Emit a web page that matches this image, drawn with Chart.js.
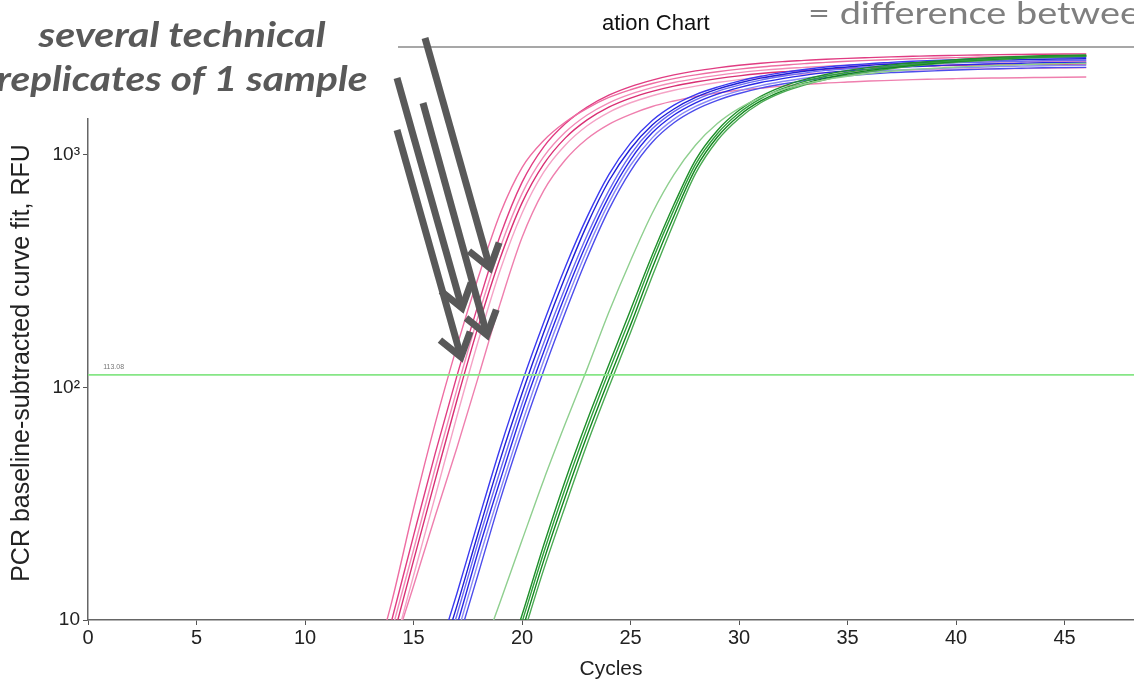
<!DOCTYPE html>
<html lang="en">
<head>
<meta charset="UTF-8">
<title>Amplification Chart</title>
<script src="https://cdn.jsdelivr.net/npm/chart.js"></script>
<style>
    html, body { margin: 0; padding: 0; background: #fff; }
    #wrap { width: 1134px; height: 693px; position: relative; }
</style>
</head>
<body>
<div id="wrap"><canvas id="ampChart"></canvas></div>
<script>
    // cycle numbers shared by every replicate curve
    var cycles = [12,13,14,15,16,17,18,19,20,21,22,23,24,25,26,27,28,29,30,31,32,33,34,35,36,37,38,39,40,41,42,43,44,45,46];

    // pink sample, technical replicates (RFU)
    var pink1 = [2.5,5.5,12,30,70,150,300,560,880,1150,1380,1580,1760,1900,2020,2120,2200,2270,2330,2380,2420,2460,2490,2520,2540,2560,2580,2595,2610,2620,2630,2640,2645,2650,2655];
    var pink2 = [2,4.5,10,23,52,112,230,450,760,1080,1360,1600,1800,1960,2090,2200,2290,2360,2420,2470,2510,2540,2570,2590,2610,2630,2645,2660,2670,2680,2690,2695,2700,2705,2710];
    var pink3 = [1.8,4,9,20,45,98,205,400,680,980,1250,1480,1670,1820,1940,2040,2120,2190,2250,2300,2340,2370,2400,2420,2440,2455,2470,2480,2490,2495,2500,2505,2510,2515,2520];
    var pink4 = [1.6,3.5,8,18,40,88,185,360,620,910,1180,1410,1600,1750,1870,1970,2050,2120,2180,2230,2270,2300,2330,2350,2370,2385,2400,2410,2420,2425,2430,2435,2440,2445,2450];
    var pink5 = [1.4,3,7,15.5,34,75,160,320,560,840,1100,1330,1520,1670,1790,1890,1970,2040,2100,2150,2190,2220,2250,2270,2290,2300,2310,2320,2330,2335,2340,2345,2350,2355,2360];
    var pink6 = [1.3,3,7,14,28,55,112,230,440,700,950,1170,1350,1490,1610,1700,1780,1840,1890,1930,1970,2000,2030,2050,2070,2085,2100,2110,2120,2130,2135,2140,2145,2150,2155];

    // blue sample
    var blue1 = [null,null,1.5,3.2,6.5,13,27,55,105,190,330,540,820,1120,1400,1630,1810,1950,2070,2170,2250,2320,2380,2420,2460,2490,2520,2540,2560,2575,2590,2600,2610,2615,2620];
    var blue2 = [null,null,1.3,2.8,5.8,11.5,24,49,94,172,300,500,770,1060,1340,1570,1760,1910,2030,2130,2210,2280,2340,2380,2420,2450,2480,2500,2520,2535,2550,2560,2570,2575,2580];
    var blue3 = [null,null,1.2,2.5,5.2,10.5,22,44,85,155,270,450,700,1000,1290,1530,1720,1870,1990,2090,2170,2240,2300,2340,2380,2410,2440,2460,2480,2495,2510,2520,2530,2535,2540];
    var blue4 = [null,null,1.1,2.3,4.8,9.5,20,40,78,142,250,420,660,950,1240,1480,1670,1820,1940,2040,2120,2190,2250,2290,2330,2360,2390,2410,2430,2445,2460,2470,2480,2485,2490];
    var blue5 = [null,null,1,2.1,4.3,8.6,18,36,70,130,230,390,620,900,1180,1420,1610,1760,1880,1980,2060,2130,2190,2230,2270,2300,2320,2340,2360,2375,2390,2400,2410,2415,2420];
    var blue6 = [null,null,0.9,1.9,3.9,7.8,16,33,64,118,210,360,580,850,1130,1370,1560,1710,1830,1930,2010,2080,2140,2180,2220,2250,2270,2290,2310,2325,2340,2350,2360,2365,2370];

    // green sample
    var green1 = [null,null,null,null,1.5,3,6.5,12,22,40,70,120,210,350,560,820,1100,1360,1580,1760,1900,2010,2100,2170,2230,2280,2320,2350,2380,2400,2420,2435,2450,2460,2470];
    var green2 = [null,null,null,null,null,1.2,2.8,5.5,10.5,21,40,72,125,215,370,610,950,1270,1550,1780,1960,2100,2210,2300,2370,2430,2480,2520,2560,2590,2620,2640,2660,2670,2680];
    var green3 = [null,null,null,null,null,1.1,2.5,5,9.8,19.5,37,67,117,200,350,580,910,1230,1510,1740,1920,2060,2170,2260,2330,2390,2440,2490,2530,2560,2590,2610,2630,2640,2650];
    var green4 = [null,null,null,null,null,1,2.3,4.6,9,18,34,62,108,185,325,545,870,1190,1470,1700,1880,2020,2130,2220,2300,2360,2420,2470,2510,2550,2580,2610,2630,2650,2660];
    var green5 = [null,null,null,null,null,0.9,2.1,4.2,8.3,16.5,31,57,100,172,300,510,830,1150,1430,1670,1850,1990,2100,2190,2270,2340,2400,2450,2490,2530,2560,2590,2610,2630,2645];

    // threshold and axes
    var threshold = [113.08];
    var xRange = [0, 48.2];
    var yRange = [10, 2900];
    var xTicks = [0,5,10,15,20,25,30,35,40,45];
    var yTicks = [10,100,1000];
    var yTickLabels = ['10','10\u00b2','10\u00b3'];

    var fontFamily = '"Liberation Sans", Arial, sans-serif';
    var slideFont = 'Lato, "Open Sans", sans-serif';

    var pinkColors = ['#ee6ea3','#e03c82','#f28cb8','#d92f74','#f5a3c6','#ef7fae'];
    var blueColors = ['#3a3af0','#1f1fd6','#6b6bf2','#2828e6','#8a8af5','#4c4cec'];
    var greenColors = ['#8fcf8f','#1e8f2a','#2e9f3a','#13861f','#4aaa52'];

    function toPoints(values) {
        return values.map(function (v, i) { return { x: cycles[i], y: v }; });
    }

    var datasets = [];
    function addGroup(series, colors) {
        series.forEach(function (s, i) {
            datasets.push({
                data: toPoints(s),
                borderColor: colors[i],
                borderWidth: 1.4,
                pointRadius: 0,
                fill: false,
                cubicInterpolationMode: 'monotone'
            });
        });
    }
    addGroup([green1, green2, green3, green4, green5], greenColors);
    addGroup([blue1, blue2, blue3, blue4, blue5, blue6], blueColors);
    addGroup([pink1, pink2, pink3, pink4, pink5, pink6], pinkColors);

    datasets.unshift({
        data: [{ x: xRange[0], y: threshold[0] }, { x: xRange[1], y: threshold[0] }],
        borderColor: '#86e686',
        borderWidth: 1.6,
        pointRadius: 0,
        fill: false
    });

    function arrow(c, x1, y1, x2, y2) {
        var ang = Math.atan2(y2 - y1, x2 - x1), head = 27, spread = 0.62;
        c.beginPath();
        c.moveTo(x1, y1);
        c.lineTo(x2 - 3 * Math.cos(ang), y2 - 3 * Math.sin(ang));
        c.stroke();
        c.beginPath();
        c.moveTo(x2 - head * Math.cos(ang - spread), y2 - head * Math.sin(ang - spread));
        c.lineTo(x2, y2);
        c.lineTo(x2 - head * Math.cos(ang + spread), y2 - head * Math.sin(ang + spread));
        c.stroke();
    }

    // draw text stretched horizontally so that `ref` takes `width` px
    function fitText(c, text, ref, x, y, width) {
        var sx = width / c.measureText(ref).width;
        c.save();
        c.translate(x, y);
        c.scale(sx, 1);
        c.fillText(text, 0, 0);
        c.restore();
    }

    var overlay = {
        id: 'overlay',
        afterDraw: function (chart) {
            var c = chart.ctx, a = chart.chartArea;
            var xs = chart.scales.x, ys = chart.scales.y;
            c.save();

            // top frame line
            c.strokeStyle = '#8a8a8a';
            c.lineWidth = 1.5;
            c.beginPath();
            c.moveTo(a.left, a.top);
            c.lineTo(a.right, a.top);
            c.stroke();

            // threshold value label
            c.fillStyle = '#777';
            c.font = '7px ' + fontFamily;
            c.textAlign = 'left';
            c.textBaseline = 'bottom';
            c.fillText(threshold[0].toFixed(2), xs.getPixelForValue(0.7), ys.getPixelForValue(threshold[0]) - 4);

            // y axis title
            c.save();
            c.translate(22, 363);
            c.rotate(-Math.PI / 2);
            c.fillStyle = '#222';
            c.font = '25px ' + fontFamily;
            c.textAlign = 'center';
            c.textBaseline = 'middle';
            c.fillText('PCR baseline-subtracted curve fit, RFU', 0, 0);
            c.restore();

            // chart title (partly hidden on the slide)
            c.fillStyle = '#111';
            c.font = '22px ' + fontFamily;
            c.textAlign = 'left';
            c.textBaseline = 'alphabetic';
            c.fillText('ation Chart', 602, 30);

            // slide annotation box
            c.fillStyle = '#fff';
            c.fillRect(0, 0, 398, 118);

            c.fillStyle = '#7f7f7f';
            c.font = '30px ' + slideFont;
            c.textAlign = 'left';
            fitText(c, '= difference between', '= difference betwee', 808, 24, 332);

            c.fillStyle = '#595959';
            c.font = 'italic bold 35px ' + slideFont;
            c.textAlign = 'center';
            fitText(c, 'several technical', 'several technical', 182, 47, 287);
            fitText(c, 'replicates of 1 sample', 'replicates of 1 sample', 182, 91, 371);

            c.strokeStyle = '#595959';
            c.lineWidth = 7;
            c.lineJoin = 'miter';
            c.lineCap = 'butt';
            arrow(c, 425, 38, 490, 268);
            arrow(c, 397, 78, 462, 308);
            arrow(c, 423, 103, 487, 335);
            arrow(c, 397, 130, 461, 357);

            c.restore();
        }
    };

    var ctx = document.getElementById('ampChart').getContext('2d');
    var ampChart = new Chart(ctx, {
        type: 'line',
        data: { datasets: datasets },
        options: {
            responsive: true,
            maintainAspectRatio: false,
            animation: false,
            events: [],
            layout: { padding: { top: 47, right: 0, left: 0, bottom: 0 } },
            plugins: {
                legend: { display: false },
                tooltip: { enabled: false }
            },
            scales: {
                x: {
                    type: 'linear',
                    min: xRange[0],
                    max: xRange[1],
                    afterBuildTicks: function (scale) {
                        scale.ticks = xTicks.map(function (v) { return { value: v }; });
                    },
                    afterFit: function (scale) { scale.height = 73; },
                    ticks: {
                        color: '#222',
                        font: { family: fontFamily, size: 20 },
                        padding: 1,
                        maxRotation: 0
                    },
                    grid: { drawOnChartArea: false, drawTicks: true, tickLength: 5, color: '#555' },
                    border: { display: true, color: '#666', width: 1.5 },
                    title: {
                        display: true,
                        text: 'Cycles',
                        color: '#222',
                        font: { family: fontFamily, size: 21 },
                        padding: { top: 0, bottom: 11 }
                    }
                },
                y: {
                    type: 'logarithmic',
                    min: yRange[0],
                    max: yRange[1],
                    afterBuildTicks: function (scale) {
                        scale.ticks = yTicks.map(function (v) { return { value: v }; });
                    },
                    afterFit: function (scale) { scale.width = 88; },
                    ticks: {
                        color: '#222',
                        font: { family: fontFamily, size: 19 },
                        padding: 3,
                        callback: function (value) {
                            var i = yTicks.indexOf(value);
                            return i >= 0 ? yTickLabels[i] : '';
                        }
                    },
                    grid: { drawOnChartArea: false, drawTicks: true, tickLength: 5, color: '#555' },
                    border: { display: true, color: '#666', width: 1.5 }
                }
            }
        },
        plugins: [overlay]
    });
</script>
</body>
</html>
